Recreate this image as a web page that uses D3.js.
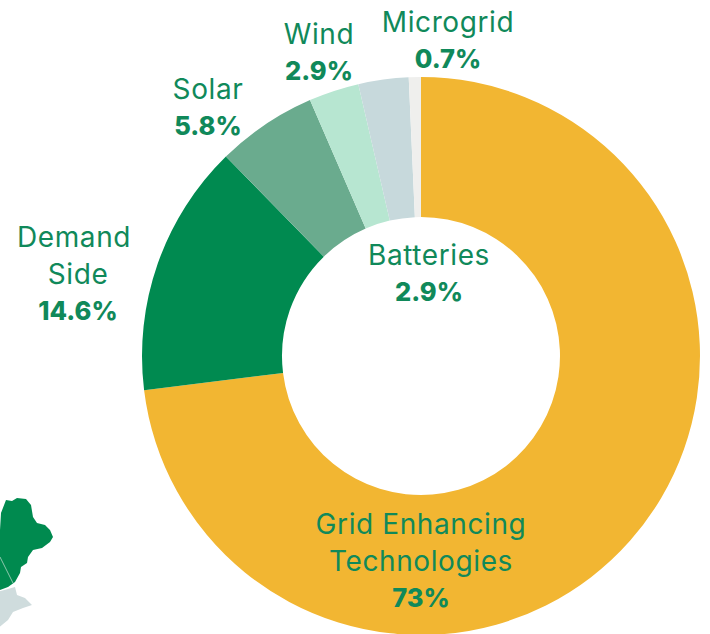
<!DOCTYPE html>
<html lang="en">
<head>
<meta charset="utf-8">
<title>Donut</title>
<style>
html, body { margin: 0; padding: 0; background: #fff; overflow: hidden; }
text { font-family: "Inter", "Open Sans", sans-serif; text-anchor: middle; fill: #10895a; }
.name { font-size: 28px; font-weight: 400; letter-spacing: 0.6px; }
.pct { font-size: 25.5px; font-weight: 800; }
</style>
</head>
<body>
<script src="https://cdn.jsdelivr.net/npm/d3@7"></script>
<script>
var categories = ["Grid Enhancing Technologies", "Demand Side", "Solar", "Wind", "Batteries", "Microgrid"];
var shares = [72.9, 14.6, 5.8, 2.9, 2.9, 0.7];
var shareLabels = ["73%", "14.6%", "5.8%", "2.9%", "2.9%", "0.7%"];

var colors = ["#f2b632", "#008a50", "#6aab8e", "#b7e6d1", "#c7d9dc", "#efefed"];
// label lines, split by hand, and where each block sits
var nameLines = [["Grid Enhancing", "Technologies"], ["Demand", "Side"], ["Solar"], ["Wind"], ["Batteries"], ["Microgrid"]];
var labelX = [421, 74, 208, 319, 429, 448];
var labelY = [534, 247, 99, 44, 265, 32];
var lineGap = 37;

var w = 710, h = 634;
var cx = 421, cy = 356, outerR = 279, innerR = 139;

var svg = d3.select("body").append("svg").attr("width", w).attr("height", h).style("display", "block");

// bit of the New England map in the corner, traced by hand (it's a blurry image in the original)
svg.append("filter").attr("id", "soft").append("feGaussianBlur").attr("stdDeviation", 0.5);
var line = d3.line();
var maine = [[1,513],[6,500],[12,501],[17,498],[26,499],[31,505],[33,517],[37,523],[45,525],[50,530],[53,537],[50,542],[42,548],[33,550],[28,557],[27,563],[21,567],[20,573],[15,582],[8,587],[-3,591],[-3,537],[0,530]];
var coast = [[-3,592],[15,587],[17,595],[25,598],[32,605],[23,608],[13,612],[8,620],[-3,629]];
var map = svg.append("g").attr("filter", "url(#soft)");
map.append("path").attr("d", line(coast) + "Z").attr("fill", "#cfdcdd");
map.append("path").attr("d", line(maine) + "Z").attr("fill", "#008a50");
map.append("path").attr("d", line([[0,557],[13,583]])).attr("stroke", "#8cc7ab").attr("stroke-width", 1).attr("fill", "none");

var pie = d3.pie().sort(null).value(function(d){ return d; });
var arc = d3.arc().innerRadius(innerR).outerRadius(outerR);

var g = svg.append("g").attr("transform", "translate(" + cx + "," + cy + ")");
g.selectAll("path").data(pie(shares)).enter().append("path")
  .attr("d", arc)
  .attr("fill", function(d, i){ return colors[i]; });

categories.forEach(function(c, i){
  var t = svg.append("g");
  nameLines[i].forEach(function(s, j){
    t.append("text").attr("class", "name")
      .attr("x", labelX[i] + (i == 1 && j == 1 ? 4 : 0))
      .attr("y", labelY[i] + j * lineGap).text(s);
  });
  t.append("text").attr("class", "pct")
    .attr("x", labelX[i] + (i == 1 ? 4 : 0))
    .attr("y", labelY[i] + nameLines[i].length * lineGap - 1)
    .text(shareLabels[i]);
});
</script>
</body>
</html>
